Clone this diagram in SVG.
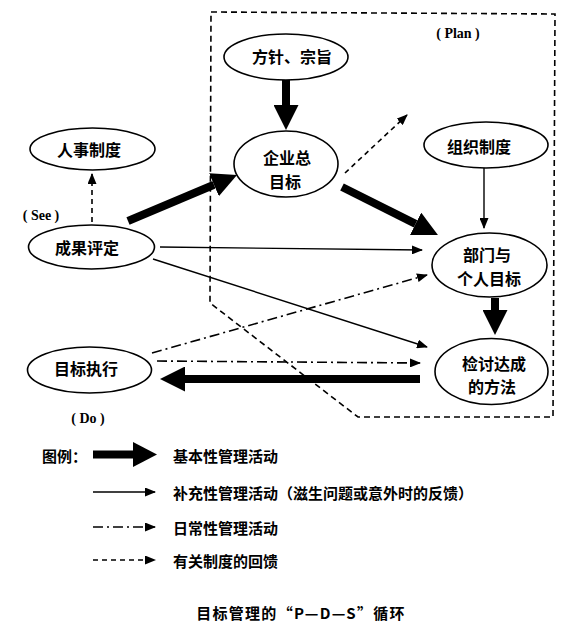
<svg xmlns="http://www.w3.org/2000/svg" width="567" height="631" viewBox="0 0 567 631">
<defs>
<style>
.node{fill:#fff;stroke:#000;stroke-width:1.6}
.t{font-family:"Noto Sans CJK SC","Noto Sans",sans-serif;font-weight:bold;font-size:16px;fill:#000;text-anchor:middle;dominant-baseline:central}
.lt{font-family:"Noto Sans CJK SC","Noto Sans",sans-serif;font-weight:bold;font-size:15px;fill:#000;dominant-baseline:central}
.lab{font-family:"Liberation Serif","Noto Sans CJK SC",serif;font-weight:bold;font-size:14px;fill:#000;text-anchor:middle;dominant-baseline:central}
.thick{stroke:#000;stroke-width:8;fill:none;marker-end:url(#big)}
.thin{stroke:#000;stroke-width:1.4;fill:none;marker-end:url(#small)}
.dd{stroke:#000;stroke-width:1.6;fill:none;stroke-dasharray:10 4 2 4;marker-end:url(#small)}
.ds{stroke:#000;stroke-width:1.6;fill:none;stroke-dasharray:5 4;marker-end:url(#small)}
.region{fill:none;stroke:#000;stroke-width:1.6;stroke-dasharray:6 4}
</style>
<marker id="big" viewBox="0 0 25 25" markerUnits="userSpaceOnUse" markerWidth="25" markerHeight="25" refX="0" refY="12.5" orient="auto">
<path d="M0,0 L25,12.5 L0,25 z" fill="#000"/>
</marker>
<marker id="small" viewBox="0 0 11 9" markerUnits="userSpaceOnUse" markerWidth="11" markerHeight="9" refX="10" refY="4.5" orient="auto">
<path d="M0,0 L11,4.5 L0,9 z" fill="#000"/>
</marker>
</defs>
<rect width="567" height="631" fill="#fff"/>

<path id="plan-region" class="region" d="M211,12 L555,14 L553,417 L358,417 L210,303 Z"/>

<g id="connectors">
<line class="thick" x1="286" y1="80" x2="286" y2="105"/>
<line class="thick" x1="128" y1="221" x2="214" y2="184.7"/>
<line class="thick" x1="342" y1="187" x2="415.6" y2="223.8"/>
<line class="thick" x1="495" y1="298" x2="495" y2="310"/>
<line class="thick" x1="420" y1="379" x2="185" y2="379"/>
<line class="thin" x1="160" y1="247" x2="422" y2="250"/>
<line class="thin" x1="153" y1="259" x2="427" y2="347"/>
<line class="thin" x1="484" y1="168" x2="484" y2="228"/>
<line class="dd" x1="152" y1="353" x2="427" y2="275"/>
<line class="dd" x1="157" y1="361" x2="420" y2="363"/>
<line class="ds" x1="92" y1="222" x2="92" y2="174"/>
<line class="ds" x1="345" y1="173" x2="407" y2="115"/>
</g>

<g id="n-fangzhen"><ellipse class="node" cx="286" cy="57" rx="62" ry="23"/><text class="t" x="292" y="56">方针、宗旨</text></g>
<g id="n-qiye"><ellipse class="node" cx="286" cy="164" rx="52" ry="33"/><text class="t" x="287" y="157">企业总</text><text class="t" x="285" y="181">目标</text></g>
<g id="n-renshi"><ellipse class="node" cx="92.5" cy="149" rx="62.5" ry="21"/><text class="t" x="89" y="149">人事制度</text></g>
<g id="n-zuzhi"><ellipse class="node" cx="486" cy="145" rx="62" ry="23"/><text class="t" x="479" y="146">组织制度</text></g>
<g id="n-chengguo"><ellipse class="node" cx="91.5" cy="247" rx="63" ry="22"/><text class="t" x="87" y="247">成果评定</text></g>
<g id="n-zhixing"><ellipse class="node" cx="89.5" cy="370" rx="62" ry="23"/><text class="t" x="86" y="368">目标执行</text></g>
<g id="n-bumen"><ellipse class="node" cx="489.5" cy="265" rx="57.5" ry="32"/><text class="t" x="487" y="254">部门与</text><text class="t" x="489" y="278">个人目标</text></g>
<g id="n-jiantao"><ellipse class="node" cx="491.5" cy="371.5" rx="56.5" ry="33"/><text class="t" x="494" y="363">检讨达成</text><text class="t" x="492" y="386">的方法</text></g>

<g id="labels">
<text class="lab" x="458" y="33">( Plan )</text>
<text class="lab" x="41" y="215">( See )</text>
<text class="lab" x="88" y="418">( Do )</text>
</g>

<g id="legend">
<text class="lt" x="42" y="455">图例：</text>
<line x1="93" y1="454.5" x2="133" y2="454.5" stroke="#000" stroke-width="8"/>
<path d="M133,442 L157,454.5 L133,467 z" fill="#000"/>
<text class="lt" x="173" y="455">基本性管理活动</text>
<line class="thin" x1="93" y1="492" x2="155" y2="492"/>
<text class="lt" x="173" y="492">补充性管理活动（滋生问题或意外时的反馈）</text>
<line class="dd" x1="93" y1="527" x2="155" y2="527"/>
<text class="lt" x="173" y="527">日常性管理活动</text>
<line class="ds" x1="93" y1="560" x2="155" y2="560"/>
<text class="lt" x="173" y="560">有关制度的回馈</text>
</g>

<text id="caption" x="301" y="612" font-family="Noto Sans CJK SC,sans-serif" font-weight="bold" font-size="15" letter-spacing="1.3" text-anchor="middle" dominant-baseline="central">目标管理的“P—D—S”循环</text>
</svg>
